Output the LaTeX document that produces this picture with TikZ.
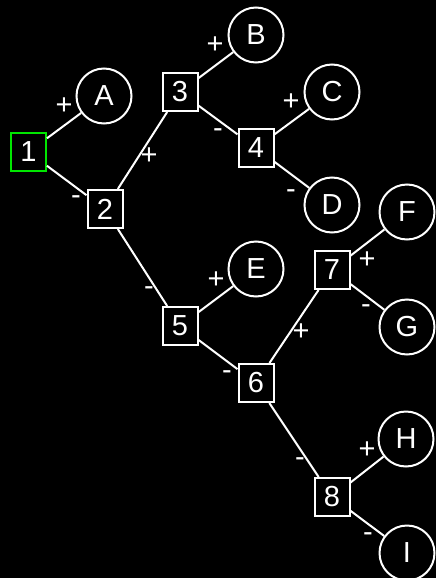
\documentclass[tikz,border=0pt]{standalone}
\usepackage{fontspec}
\setmainfont{Liberation Sans}
\usepackage{tikz}
\definecolor{leafgreen}{RGB}{0,230,0}

\begin{document}
\begin{tikzpicture}[x=0.5pt, y=-0.5pt, line width=1pt,
  test/.style={draw=white, fill=black, text=white, minimum width=17.5pt, minimum height=19pt, inner sep=0pt},
  leaf/.style={circle, draw=white, fill=black, text=white, minimum size=27.5pt, inner sep=0pt},
  sign/.style={text=white, inner sep=0pt, text height=0.7em, text depth=0pt},
  every node/.style={font=\fontsize{14.5}{17}\selectfont}]

\fill[black] (0,0) rectangle (436,578);
\useasboundingbox (0,0) rectangle (436,578);

% decision boxes
\node[test, draw=leafgreen] (n1) at (28.5,152) {1};
\node[test] (n2) at (105,209) {2};
\node[test] (n3) at (180,92) {3};
\node[test] (n4) at (256,148) {4};
\node[test] (n5) at (180,326) {5};
\node[test] (n6) at (256,383) {6};
\node[test] (n7) at (332,270) {7};
\node[test] (n8) at (332,497) {8};

% leaves
\node[leaf] (A) at (104,96) {A};
\node[leaf] (B) at (256,35) {B};
\node[leaf] (C) at (332,92) {C};
\node[leaf] (D) at (332,205) {D};
\node[leaf] (E) at (256,269) {E};
\node[leaf] (F) at (407,212) {F};
\node[leaf] (G) at (407,327) {G};
\node[leaf] (H) at (406,439) {H};
\node[leaf] (I) at (407,553) {I};

% branches with their signs
\foreach \a/\b/\sg/\x/\y in {n1/A/+/64/107, n1/n2/-/76/197, n2/n3/+/149/157,
    n3/B/+/215/46, n3/n4/-/218/130, n4/C/+/291/103, n4/D/-/291/191,
    n2/n5/-/149/288, n5/E/+/216/281, n5/n6/-/227/372, n6/n7/+/301/333,
    n7/F/+/367/261, n7/G/-/366/306, n6/n8/-/300/459, n8/H/+/367/451,
    n8/I/-/368/534} {
  \draw[white] (\a) -- (\b);
  \node[sign] (s\a\b) at (\x,\y) {\sg};
}

\end{tikzpicture}
\end{document}
